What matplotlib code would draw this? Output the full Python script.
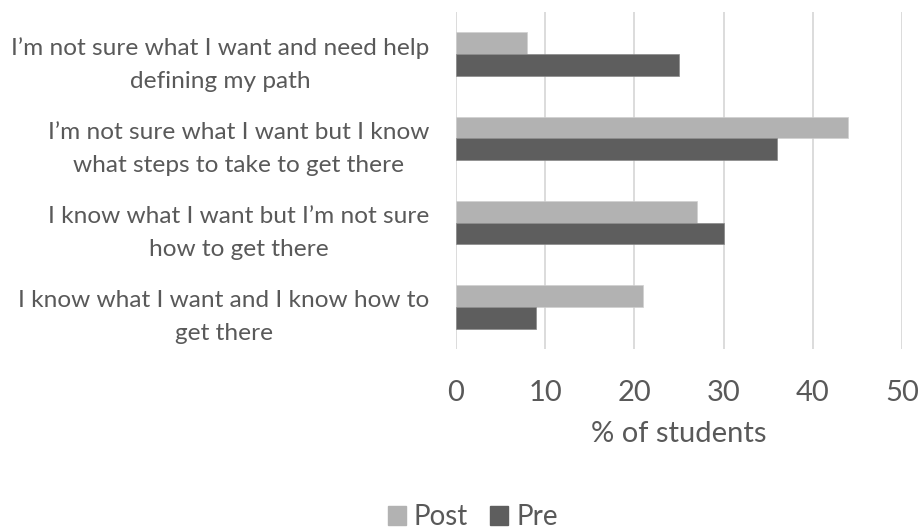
import numpy as np
import matplotlib
matplotlib.use('Agg')
import matplotlib.pyplot as plt

# data (% of students)
categories = ["I\u2019m not sure what I want and need help\ndefining my path",
              "I\u2019m not sure what I want but I know\nwhat steps to take to get there",
              "I know what I want but I\u2019m not sure\nhow to get there",
              "I know what I want and I know how to\nget there"]
post = [8, 44, 27, 21]
pre = [25, 36, 30, 9]
xticks = [0, 10, 20, 30, 40, 50]

text_col = '#595959'
post_col = '#B2B2B2'
pre_col = '#5E5E5E'
grid_col = '#D9D9D9'

plt.rcParams['font.family'] = ['Lato', 'DejaVu Sans']

fig = plt.figure(figsize=(9.19, 5.29), dpi=100)
ax = fig.add_axes([456/919, 1-349/529, 446/919, 337/529])

y = np.arange(len(categories))
h = 0.2576
ax.barh(y - h/2, post, height=h, color=post_col, edgecolor='#D0D0D0', linewidth=0.5, label='Post', zorder=3)
ax.barh(y + h/2, pre, height=h, color=pre_col, edgecolor='#8A8A8A', linewidth=0.5, label='Pre', zorder=3)

ax.set_xlim(0, 50)
ax.set_ylim(3.5, -0.5)
ax.set_xticks(xticks)
ax.set_xticklabels([str(t) for t in xticks])
# labels sit slightly below the group centre, like Excel does
ax.set_yticks(y + 0.03)
ax.set_yticklabels(categories, multialignment='center', linespacing=1.7)

for s in ax.spines.values():
    s.set_visible(False)
ax.grid(axis='x', color=grid_col, linewidth=1.3, zorder=0)
ax.tick_params(axis='both', length=0, colors=text_col)
ax.tick_params(axis='x', labelsize=21, pad=22)
ax.tick_params(axis='y', labelsize=17.6, pad=19)

ax.set_xlabel('% of students', fontsize=21, color=text_col, labelpad=11)

handles = [plt.Rectangle((0, 0), 1, 1, color=post_col),
           plt.Rectangle((0, 0), 1, 1, color=pre_col)]
fig.legend(handles, ['Post', 'Pre'], loc='center', bbox_to_anchor=(473/919, 1-517/529),
           ncol=2, frameon=False, fontsize=20, labelcolor=text_col,
           handlelength=0.65, handleheight=0.65, handletextpad=0.3, columnspacing=0.8,
           borderpad=0)

fig.savefig('out.png', dpi=100)
